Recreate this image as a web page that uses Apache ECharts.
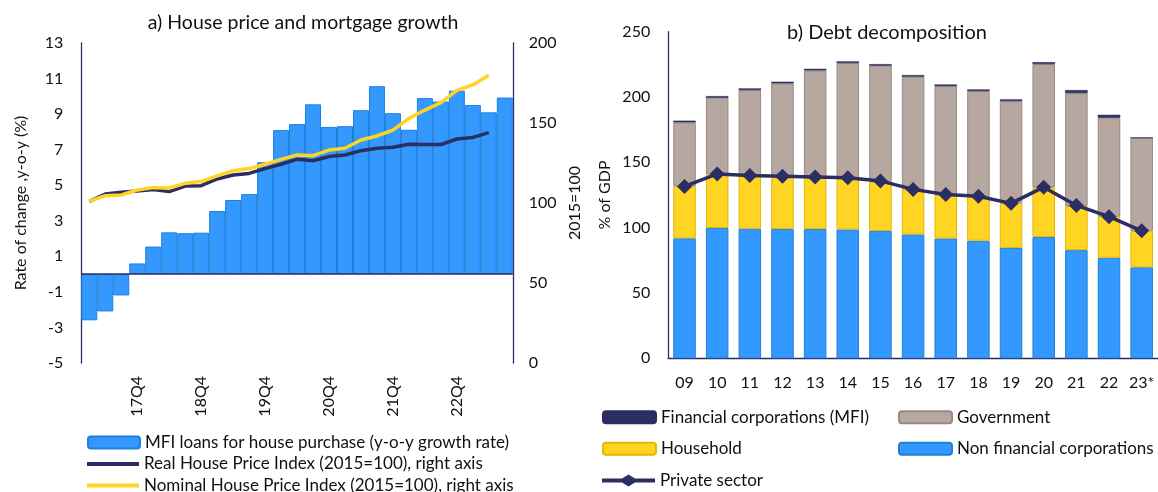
<!DOCTYPE html>
<html>
<head>
<meta charset="utf-8">
<script src="https://cdn.jsdelivr.net/npm/echarts@6/dist/echarts.min.js"></script>
<style>
  html, body { margin: 0; padding: 0; background: #ffffff; }
  #chart { width: 1158px; height: 492px; }
</style>
</head>
<body>
<div id="chart"></div>
<script>
// Panel a) quarterly categories, 2017Q1 to 2023Q3
const quarters = [
  '17Q1','17Q2','17Q3','17Q4','18Q1','18Q2','18Q3','18Q4',
  '19Q1','19Q2','19Q3','19Q4','20Q1','20Q2','20Q3','20Q4',
  '21Q1','21Q2','21Q3','21Q4','22Q1','22Q2','22Q3','22Q4',
  '23Q1','23Q2','23Q3'
];
// MFI loans for house purchase, y-o-y growth (%)
const mfiLoanGrowth = [
  -2.6, -2.1, -1.2, 0.6, 1.55, 2.35, 2.3, 2.33,
  3.55, 4.17, 4.5, 6.29, 8.1, 8.44, 9.55, 8.28,
  8.32, 9.22, 10.57, 9.05, 8.12, 9.9, 9.71, 10.32,
  9.51, 9.1, 9.93
];
// House price indices, 2015=100 (available up to 23Q2)
const realHPI = [
  101.0, 105.6, 106.7, 107.5, 108.5, 107.1, 110.6, 110.8,
  115.0, 117.5, 118.5, 121.5, 124.2, 127.3, 126.4, 129.0,
  130.0, 132.7, 134.2, 134.8, 136.7, 136.5, 136.5, 140.0,
  141.0, 144.0
];
const nominalHPI = [
  101.2, 104.6, 105.0, 108.1, 109.6, 109.4, 112.3, 113.5,
  116.9, 120.2, 121.5, 124.2, 127.3, 130.0, 129.6, 133.1,
  134.2, 139.4, 141.9, 145.6, 152.9, 158.1, 162.7, 170.4,
  173.8, 179.8
];

// Panel b) yearly debt decomposition, % of GDP
const years = ['09','10','11','12','13','14','15','16','17','18','19','20','21','22','23*'];
const nonFinancialCorps = [91.8, 99.8, 99.2, 98.9, 98.9, 98.6, 97.6, 94.8, 91.7, 90.0, 84.5, 92.8, 82.8, 77.0, 69.6];
const households        = [39.8, 41.0, 40.3, 39.8, 39.3, 38.9, 37.6, 34.5, 33.3, 33.5, 34.1, 38.0, 33.8, 31.4, 28.0];
const government        = [49.0, 58.6, 65.8, 71.7, 82.1, 88.5, 88.7, 86.2, 83.3, 81.0, 78.3, 94.4, 86.4, 75.7, 71.2];
const financialCorps    = [1.3, 1.3, 1.3, 1.3, 1.3, 1.3, 1.3, 1.3, 1.3, 1.3, 1.3, 1.5, 2.3, 2.3, 0];
const privateSector     = [131.6, 141.1, 139.9, 139.4, 138.8, 138.2, 135.8, 129.3, 125.4, 124.0, 118.6, 131.0, 117.0, 108.4, 97.6];

const FONT = 'Lato';
const NAVY = '#2b2e62';
const BLUE = '#3399ff';
const BLUE_EDGE = '#1f7fdd';
const YELLOW = '#ffd422';
const YELLOW_EDGE = '#e2b700';
const TAUPE = '#b6a7a0';
const TAUPE_EDGE = '#9a8980';
const TXT = '#111111';

const S_MFI = 'MFI loans for house purchase (y-o-y growth rate)';
const S_REAL = 'Real House Price Index (2015=100), right axis';
const S_NOM = 'Nominal House Price Index (2015=100), right axis';

const chart = echarts.init(document.getElementById('chart'), null, { renderer: 'canvas' });

const axisTxt = { color: TXT, fontFamily: FONT, fontSize: 16 };
const navyLine = { show: true, lineStyle: { color: NAVY, width: 1.3 } };

// One legend component per entry, centred on the given row
function legendRow(name, left, centerY, extra) {
  return Object.assign({
    left: left, top: centerY - 8, padding: 0, itemWidth: 52, itemHeight: 12,
    textStyle: { fontFamily: FONT, fontSize: 17, color: TXT, lineHeight: 16 },
    data: [name]
  }, extra || {});
}
const lineIcon = (color) => ({ icon: 'rect', itemHeight: 4, itemStyle: { color: color, borderWidth: 0 } });
// Thick line with a diamond marker in the middle, for the private sector key
const diamondLineIcon = 'path://M0,4 L20,4 L26.5,0 L33,4 L53,4 L53,8 L33,8 L26.5,12 L20,8 L0,8 Z';

chart.setOption({
  animation: false,
  backgroundColor: '#ffffff',
  textStyle: { fontFamily: FONT, color: TXT },
  title: [
    { text: 'a) House price and mortgage growth', left: 298, top: 8, textAlign: 'center',
      textStyle: { fontFamily: FONT, fontSize: 19.5, fontWeight: 'normal', color: TXT } },
    { text: 'b) Debt decomposition', left: 882, top: 18, textAlign: 'center',
      textStyle: { fontFamily: FONT, fontSize: 20, fontWeight: 'normal', color: TXT } }
  ],
  legend: [
    legendRow(S_MFI, 87, 442),
    legendRow(S_REAL, 87, 463.5, lineIcon(NAVY)),
    legendRow(S_NOM, 87, 485, lineIcon(YELLOW)),
    legendRow('Financial corporations (MFI)', 602, 416.7, { itemWidth: 53 }),
    legendRow('Household', 602, 448.3, { itemWidth: 53 }),
    legendRow('Private sector', 602, 480, { itemWidth: 53, icon: diamondLineIcon,
      itemStyle: { color: NAVY, borderWidth: 0 } }),
    legendRow('Government', 898, 416.7, { itemWidth: 53 }),
    legendRow('Non financial corporations', 898, 448.3, { itemWidth: 53 })
  ],
  grid: [
    { left: 81.3, top: 43, width: 431.5, height: 320 },
    { left: 668.2, top: 31.7, width: 495, height: 326.6 }
  ],
  xAxis: [
    { type: 'category', gridIndex: 0, data: quarters,
      axisLine: { show: false, onZero: false }, axisTick: { show: false },
      axisLabel: Object.assign({ rotate: 90, margin: 13, interval: (i) => i % 4 === 3 }, axisTxt) },
    { type: 'category', gridIndex: 1, data: years,
      axisLine: navyLine, axisTick: { show: false },
      axisLabel: Object.assign({ margin: 17, interval: 0 }, axisTxt) }
  ],
  yAxis: [
    { type: 'value', gridIndex: 0, min: -5, max: 13, interval: 1, position: 'left',
      name: 'Rate of change ,y-o-y (%)', nameLocation: 'middle', nameGap: 52,
      nameTextStyle: { fontFamily: FONT, fontSize: 16, color: TXT },
      axisLine: navyLine, axisTick: { show: false }, splitLine: { show: false },
      axisLabel: Object.assign({ margin: 18,
        formatter: (v) => (Math.abs(v) % 2 === 1 ? String(v) : '') }, axisTxt) },
    { type: 'value', gridIndex: 0, min: 0, max: 200, interval: 50, position: 'right',
      name: '2015=100', nameLocation: 'middle', nameGap: 54,
      nameTextStyle: { fontFamily: FONT, fontSize: 16, color: TXT },
      axisLine: navyLine, axisTick: { show: false }, splitLine: { show: false },
      axisLabel: Object.assign({ margin: 16 }, axisTxt) },
    { type: 'value', gridIndex: 1, min: 0, max: 250, interval: 50,
      name: '% of GDP', nameLocation: 'middle', nameGap: 55,
      nameTextStyle: { fontFamily: FONT, fontSize: 16, color: TXT },
      axisLine: navyLine, axisTick: { show: false }, splitLine: { show: false },
      axisLabel: Object.assign({ margin: 18 }, axisTxt) }
  ],
  series: [
    { name: S_MFI, type: 'bar',
      xAxisIndex: 0, yAxisIndex: 0, data: mfiLoanGrowth, barCategoryGap: 0,
      itemStyle: { color: BLUE, borderColor: BLUE_EDGE, borderWidth: 1 },
      markLine: { silent: true, symbol: 'none', label: { show: false },
        lineStyle: { color: NAVY, width: 1.5, type: 'solid' }, data: [{ yAxis: 0 }] } },
    { name: S_REAL, type: 'line',
      xAxisIndex: 0, yAxisIndex: 1, data: realHPI, showSymbol: false, symbol: 'none',
      lineStyle: { color: NAVY, width: 3.5 }, itemStyle: { color: NAVY } },
    { name: S_NOM, type: 'line',
      xAxisIndex: 0, yAxisIndex: 1, data: nominalHPI, showSymbol: false, symbol: 'none',
      lineStyle: { color: YELLOW, width: 3.5 }, itemStyle: { color: YELLOW } },

    { name: 'Non financial corporations', type: 'bar', stack: 'debt', xAxisIndex: 1, yAxisIndex: 2,
      data: nonFinancialCorps, barCategoryGap: '31%',
      itemStyle: { color: BLUE, borderColor: BLUE_EDGE, borderWidth: 1 } },
    { name: 'Household', type: 'bar', stack: 'debt', xAxisIndex: 1, yAxisIndex: 2,
      data: households, itemStyle: { color: YELLOW, borderColor: YELLOW_EDGE, borderWidth: 1 } },
    { name: 'Government', type: 'bar', stack: 'debt', xAxisIndex: 1, yAxisIndex: 2,
      data: government, itemStyle: { color: TAUPE, borderColor: TAUPE_EDGE, borderWidth: 1 } },
    { name: 'Financial corporations (MFI)', type: 'bar', stack: 'debt', xAxisIndex: 1, yAxisIndex: 2,
      data: financialCorps, itemStyle: { color: NAVY, borderColor: NAVY, borderWidth: 0.6 } },
    { name: 'Private sector', type: 'line', xAxisIndex: 1, yAxisIndex: 2, data: privateSector,
      symbol: 'diamond', symbolSize: 15, lineStyle: { color: NAVY, width: 3.5 },
      itemStyle: { color: NAVY }, z: 5 }
  ]
});
</script>
</body>
</html>
